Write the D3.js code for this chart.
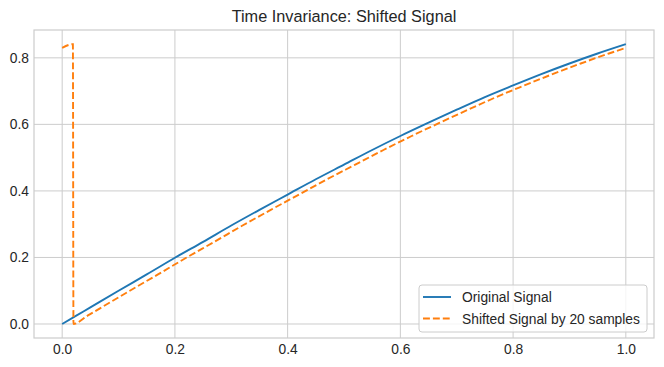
<!DOCTYPE html>
<html><head><meta charset="utf-8">
<script src="https://cdn.jsdelivr.net/npm/d3@7"></script>
<style>body{margin:0;background:#fff}svg{display:block}text{font-family:"Liberation Sans",Arial,sans-serif;fill:#262626}</style>
</head><body><svg id="c" width="664" height="367"></svg>
<script>
const origX = [0,0.025,0.05,0.1,0.15,0.2,0.25,0.3,0.35,0.4,0.45,0.5,0.55,0.6,0.65,0.7,0.75,0.8,0.85,0.9,0.95,1.0];
const origY = [0,0.025,0.050,0.100,0.149,0.199,0.247,0.296,0.343,0.389,0.435,0.479,0.523,0.565,0.605,0.644,0.682,0.717,0.751,0.783,0.813,0.841];
const shiftX = [0,0.019,0.02,0.045,0.07,0.12,0.17,0.22,0.27,0.32,0.37,0.42,0.47,0.52,0.57,0.62,0.67,0.72,0.77,0.82,0.87,0.92,0.97,1.0];
const shiftY = [0.830,0.841,0,0.025,0.050,0.100,0.149,0.199,0.247,0.296,0.343,0.389,0.435,0.479,0.523,0.565,0.605,0.644,0.682,0.717,0.751,0.783,0.813,0.830];
const xTicks = [0,0.2,0.4,0.6,0.8,1.0];
const yTicks = [0,0.2,0.4,0.6,0.8];
const title = "Time Invariance: Shifted Signal";
const legendLabels = ["Original Signal","Shifted Signal by 20 samples"];

const L=34,R=654,T=30,B=338;
const svg=d3.select("#c");
const x=d3.scaleLinear().domain([-0.05,1.05]).range([L,R]);
const y=d3.scaleLinear().domain([-0.04208,0.88365]).range([B,T]);
const g=svg.append("g");
g.selectAll(".gx").data(xTicks).join("line").attr("x1",d=>x(d)).attr("x2",d=>x(d)).attr("y1",T).attr("y2",B).attr("stroke","#cccccc").attr("stroke-width",1);
g.selectAll(".gy").data(yTicks).join("line").attr("y1",d=>y(d)).attr("y2",d=>y(d)).attr("x1",L).attr("x2",R).attr("stroke","#cccccc").attr("stroke-width",1);
const ax=svg.append("g").attr("transform",`translate(0,${B})`).call(d3.axisBottom(x).tickValues(xTicks).tickFormat(d3.format(".1f")).tickSize(0).tickPadding(6));
const ay=svg.append("g").attr("transform",`translate(${L},0)`).call(d3.axisLeft(y).tickValues(yTicks).tickFormat(d3.format(".1f")).tickSize(0).tickPadding(5));
[ax,ay].forEach(a=>{a.select(".domain").remove();a.selectAll("text").style("font-size","13.8px").style("font-family","'Liberation Sans',Arial,sans-serif").attr("fill","#262626");});
svg.append("rect").attr("x",L).attr("y",T).attr("width",R-L).attr("height",B-T).attr("fill","none").attr("stroke","#cccccc").attr("stroke-width",1.2);
svg.append("clipPath").attr("id","cp").append("rect").attr("x",L).attr("y",T).attr("width",R-L).attr("height",B-T);
const line=d3.line().x(d=>x(d[0])).y(d=>y(d[1])).curve(d3.curveMonotoneX);
svg.append("path").datum(origX.map((v,i)=>[v,origY[i]])).attr("d",line).attr("fill","none").attr("stroke","#1f77b4").attr("stroke-width",1.9).attr("clip-path","url(#cp)");
svg.append("path").datum(shiftX.map((v,i)=>[v,shiftY[i]])).attr("d",line).attr("fill","none").attr("stroke","#ff7f0e").attr("stroke-width",1.9).attr("stroke-dasharray","6.9,3").attr("clip-path","url(#cp)");
svg.append("text").attr("x",(L+R)/2).attr("y",22).attr("text-anchor","middle").style("font-size","16.3px").text(title);
const lg=svg.append("g");
lg.append("rect").attr("x",419).attr("y",285).attr("width",228).attr("height",47).attr("rx",3).attr("fill","#fff").attr("fill-opacity",0.8).attr("stroke","#cccccc").attr("stroke-width",1);
const cols=["#1f77b4","#ff7f0e"],dash=[null,"6.9,3"];
legendLabels.forEach((t,i)=>{
  const yy=297+i*21.5;
  lg.append("line").attr("x1",423).attr("x2",451).attr("y1",yy).attr("y2",yy).attr("stroke",cols[i]).attr("stroke-width",1.9).attr("stroke-dasharray",dash[i]);
  lg.append("text").attr("x",462).attr("y",yy+5).style("font-size","13.8px").text(t);
});
</script></body></html>
